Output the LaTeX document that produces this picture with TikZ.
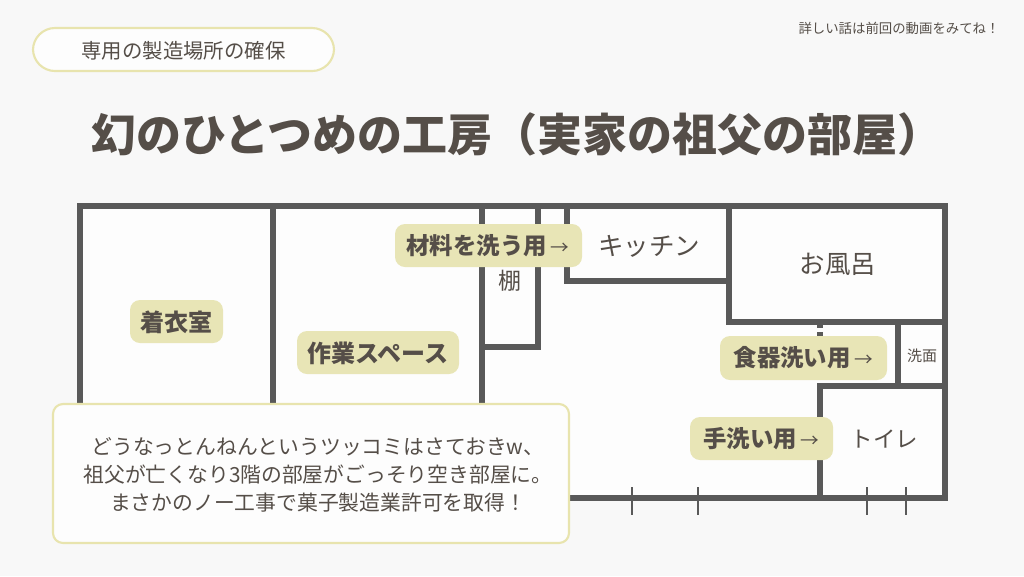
\documentclass[tikz,border=0pt]{standalone}
\usepackage{fontspec}
\setmainfont{Noto Sans CJK JP}
\definecolor{bgc}{HTML}{F8F8F8}
\definecolor{inner}{HTML}{FDFDFD}
\definecolor{wallc}{HTML}{595959}
\definecolor{ink}{HTML}{554E48}
\definecolor{tagc}{HTML}{E8E5B6}
\definecolor{edgec}{HTML}{E8E4AE}
\newcommand{\pxs}[1]{\fontsize{\dimexpr#1pt*3/4\relax}{\dimexpr#1pt*9/8\relax}\selectfont}
\newcommand{\arw}{\,{\mdseries\fontsize{14pt}{14pt}\selectfont →}}
\tikzset{
  wall/.style={draw=wallc,line width=3.9pt,line cap=rect},
  tick/.style={draw=wallc,line width=1.6pt},
  tag/.style={rounded corners=7.5pt,fill=tagc},
  tagtext/.style={text=ink,font=\bfseries\pxs{24},inner sep=0pt},
  smalltag/.style={text=ink,font=\bfseries\pxs{23.4},inner sep=0pt},
  room/.style={text=ink,inner sep=0pt},
  frame/.style={draw=edgec,line width=1.6pt,fill=inner},
}
\begin{document}
\begin{tikzpicture}[x=0.75pt,y=-0.75pt]
\useasboundingbox (0,0) rectangle (1024,576);
\fill[bgc] (0,0) rectangle (1024,576);
% plan
\fill[inner] (80,206) rectangle (945,498);
\draw[wall] (80,206) -- (945,206) -- (945,498) -- (80,498) -- cycle;
\draw[wall] (273,206) -- (273,410);
\draw[wall] (482,206) -- (482,410);
\draw[wall] (538,206) -- (538,347) -- (482,347);
\draw[wall] (567,206) -- (567,281) -- (729,281);
\draw[wall] (729,206) -- (729,322) -- (945,322);
\draw[wall] (898,322) -- (898,386);
\draw[wall] (945,386) -- (820,386) -- (820,498);
\draw[draw=wallc,line width=3.9pt] (820,324) -- (820,328) (820,332) -- (820,336);
\foreach \tx in {632,698,867,906} \draw[tick] (\tx,487) -- (\tx,515);
% header
\draw[frame,rounded corners=16.5pt] (33,28) rectangle (334,71);
\node[room,font=\pxs{20.4}] (head) at (183.5,51) {専用の製造場所の確保};
\node[room,font=\pxs{13.4}] (note) at (899,28) {詳しい話は前回の動画をみてね！};
\node[text=ink,font=\bfseries\pxs{45},inner sep=0pt] (title) at (517,134) {幻のひとつめの工房（実家の祖父の部屋）};
% rooms
\node[room,font=\pxs{25.5}] (kitchen) at (649,246) {キッチン};
\node[room,font=\pxs{25.5}] (bath) at (838,264) {お風呂};
\node[room,font=\pxs{22.5}] (toilet) at (884.5,439) {トイレ};
\node[room,font=\pxs{15}] (wash) at (922,356) {洗面};
\node[room,font=\pxs{23}] (shelf) at (510,281) {棚};
% tags
\fill[tag] (130,300) rectangle (223,343);
\node[tagtext] (t1) at (176.5,322) {着衣室};
\fill[tag] (297,331) rectangle (459,374);
\node[tagtext] (t2) at (378,353) {作業スペース};
\fill[tag] (395,224) rectangle (582,267);
\node[smalltag] (t3) at (488,246) {材料を洗う用\arw};
\fill[tag] (720,336) rectangle (887,380);
\node[smalltag] (t4) at (803.5,358) {食器洗い用\arw};
\fill[tag] (690,417) rectangle (833,460);
\node[smalltag] (t5) at (761.5,439) {手洗い用\arw};
% callout
\draw[frame,rounded corners=7.5pt] (53,404) rectangle (569,543);
\node[room,font=\fontsize{15.6pt}{21pt}\selectfont,align=center] (msg) at (318,475) {どうなっとんねんというツッコミはさておきw、\\祖父が亡くなり3階の部屋がごっそり空き部屋に。\\まさかのノー工事で菓子製造業許可を取得！};
\end{tikzpicture}
\end{document}
